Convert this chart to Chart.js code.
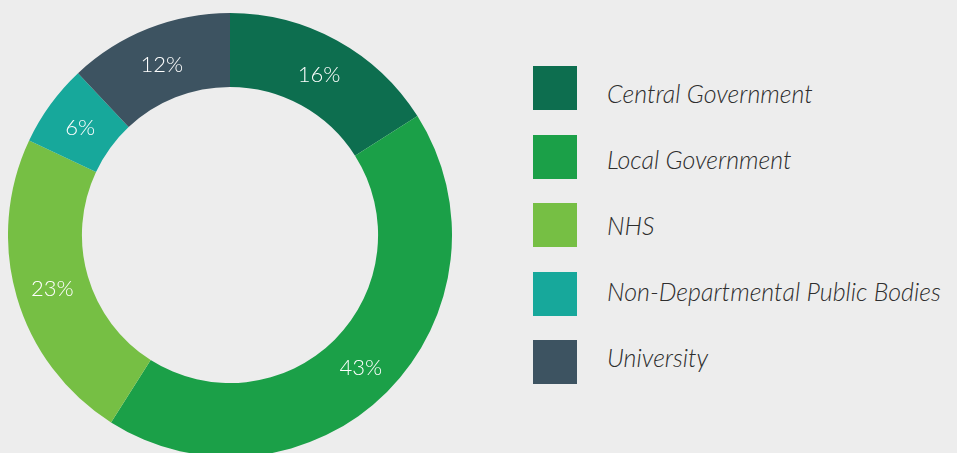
<!DOCTYPE html>
<html>
<head>
<meta charset="utf-8">
<script src="https://cdn.jsdelivr.net/npm/chart.js@4.4.0/dist/chart.umd.min.js"></script>
<style>
  html, body { margin: 0; padding: 0; }
  body {
    width: 957px; height: 453px; overflow: hidden;
    background: #ededed; position: relative;
    font-family: "Lato", sans-serif;
  }
  #wrap { position: absolute; left: 8px; top: 13px; width: 444px; height: 444px; }
  #legend { position: absolute; left: 0; top: 0; }
  .box { position: absolute; left: 533px; width: 44px; height: 44px; }
  .txt {
    position: absolute; left: 607px; height: 30px; line-height: 30px;
    font-size: 25px; font-style: italic; font-weight: 300;
    color: #2e2e2e; white-space: nowrap;
  }
</style>
</head>
<body>
<div id="wrap"><canvas id="donut"></canvas></div>
<div id="legend"></div>
<script>
// sectors, clockwise from 12 o'clock
const sectors = ["Central Government", "Local Government", "NHS", "Non-Departmental Public Bodies", "University"];
const shares = [16, 43, 23, 6, 12];
const sectorColours = ["#0d6e4f", "#1ba048", "#76bf44", "#17a89b", "#3d5361"];

// writes the % in the middle of each ring piece
const pctLabels = {
  id: "pctLabels",
  afterDatasetsDraw(chart) {
    const ctx = chart.ctx;
    const meta = chart.getDatasetMeta(0);
    ctx.save();
    ctx.fillStyle = "#ffffff";
    ctx.font = "300 22px Lato";
    ctx.textAlign = "center";
    ctx.textBaseline = "middle";
    meta.data.forEach((arc, i) => {
      const p = arc.tooltipPosition();
      ctx.fillText(shares[i] + "%", p.x, p.y + 2);
    });
    ctx.restore();
  }
};

new Chart(document.getElementById("donut"), {
  type: "doughnut",
  data: {
    labels: sectors,
    datasets: [{
      data: shares,
      backgroundColor: sectorColours,
      borderWidth: 0
    }]
  },
  options: {
    responsive: true,
    maintainAspectRatio: false,
    animation: false,
    cutout: "66.7%",
    layout: { padding: 0 },
    plugins: {
      legend: { display: false },
      tooltip: { enabled: false }
    }
  },
  plugins: [pctLabels]
});

// legend on the right, built from same arrays
// boxes and labels step a bit differently in the original
const legend = document.getElementById("legend");
sectors.forEach((name, i) => {
  const box = document.createElement("div");
  box.className = "box";
  box.style.top = (66 + i * 68.5) + "px";
  box.style.background = sectorColours[i];
  const txt = document.createElement("div");
  txt.className = "txt";
  txt.style.top = (78 + i * 66) + "px";
  txt.textContent = name;
  legend.appendChild(box);
  legend.appendChild(txt);
});
</script>
</body>
</html>
